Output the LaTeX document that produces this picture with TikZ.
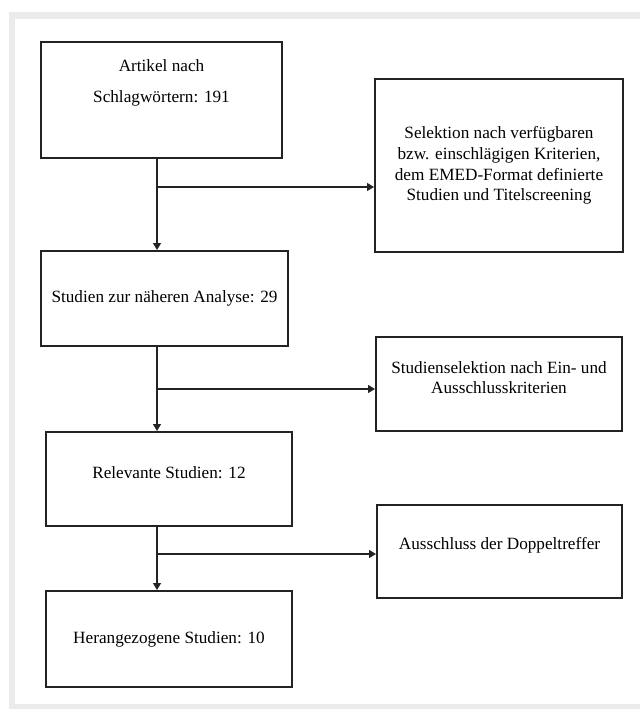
\documentclass[tikz,border=0pt]{standalone}
\usepackage{fontspec}
\setmainfont{Liberation Serif}
\usetikzlibrary{arrows.meta}

\definecolor{framegray}{RGB}{235,235,237}
\definecolor{boxline}{RGB}{35,35,35}

\begin{document}
\begin{tikzpicture}[x=0.5pt,y=-0.5pt,
  box/.style={draw=boxline, line width=1pt, align=center, inner sep=0pt,
    font=\fontsize{8.6}{10.4}\selectfont},
  plain/.style={align=center, inner sep=0pt, font=\fontsize{8.6}{10.4}\selectfont},
  link/.style={draw=boxline, line width=0.6pt},
  flow/.style={link, -{Triangle[length=3.5pt,width=4pt]}}]

\useasboundingbox (0,0) rectangle (640,709);
\fill[framegray] (9,12) rectangle (640,709);
\fill[white] (15,19) rectangle (640,704);

% left column
\node[box, minimum width=120.5pt, minimum height=58pt] (art) at (161.5,100) {};
\node[plain] (arttext) at (161.5,82.5) {Artikel nach\\[5.1pt]Schlagwörtern: 191};
\node[box, minimum width=123.5pt, minimum height=47.5pt] (ana) at (164.5,298.5) {Studien zur näheren Analyse: 29};
\node[box, minimum width=123pt, minimum height=47pt, text depth=6pt] (rel) at (169,479) {Relevante Studien: 12};
\node[box, minimum width=123pt, minimum height=48pt] (her) at (169,639) {Herangezogene Studien: 10};

% right column
\node[box, minimum width=124pt, minimum height=86.5pt] (sel) at (499,165.5)
  {Selektion nach verfügbaren\\bzw. einschlägigen Kriterien,\\dem EMED-Format definierte\\Studien und Titelscreening};
\node[box, minimum width=123pt, minimum height=47pt, text depth=6.5pt] (ein) at (499,384)
  {Studienselektion nach Ein- und\\Ausschlusskriterien};
\node[box, minimum width=122.5pt, minimum height=46.5pt, text depth=8pt] (dop) at (499.5,551.5)
  {Ausschluss der Doppeltreffer};

% connectors
\coordinate (spine) at (157,0);
\coordinate (b1) at (157,187);
\coordinate (b2) at (157,389);
\coordinate (b3) at (157,554);

\draw[link] (art.south -| spine) -- (b1);
\draw[flow] (b1) -- (ana.north -| spine);
\draw[flow] (b1) -- (b1 -| sel.west);

\draw[link] (ana.south -| spine) -- (b2);
\draw[flow] (b2) -- (rel.north -| spine);
\draw[flow] (b2) -- (b2 -| ein.west);

\draw[link] (rel.south -| spine) -- (b3);
\draw[flow] (b3) -- (her.north -| spine);
\draw[flow] (b3) -- (b3 -| dop.west);

\end{tikzpicture}
\end{document}
